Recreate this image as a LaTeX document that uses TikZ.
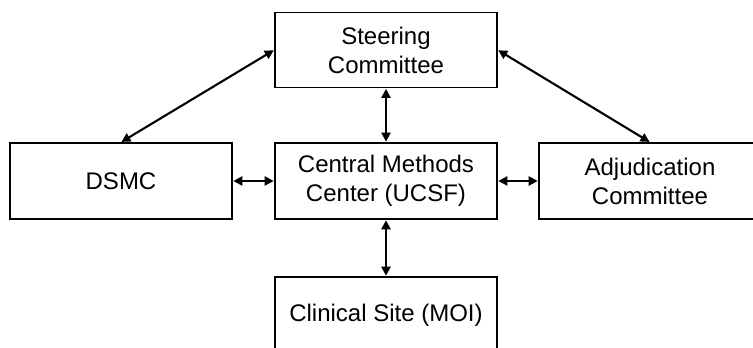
\documentclass[tikz,border=0pt]{standalone}
\usepackage{fontspec}
\setmainfont{Liberation Sans}
\usetikzlibrary{arrows.meta}
\tikzset{
  box/.style={draw=black, line width=1.6pt, fill=white, minimum width=222pt, minimum height=75pt,
    inner sep=0pt, align=center, font=\fontsize{24pt}{29pt}\selectfont},
  link/.style={line width=2.1pt, {Triangle[length=9pt,width=9pt]}-{Triangle[length=9pt,width=9pt]}, shorten <=0.5pt, shorten >=0.5pt}
}
\begin{document}
\begin{tikzpicture}[x=1pt,y=1pt]
\useasboundingbox (0,0) rectangle (753,348);
\fill[white] (0,0) rectangle (753,348);
\clip (0,0) rectangle (753,348);
\node[box] (steer) at (386,298) {Steering\\Committee};
\node[box, minimum height=76pt] (dsmc) at (121,167) {DSMC};
\node[box, minimum height=76pt] (cmc) at (386,167) {Central Methods\\Center (UCSF)};
\node[box, minimum height=76pt] (adj) at (650,167) {Adjudication\\Committee};
\node[box, minimum height=76pt] (site) at (386,33) {Clinical Site (MOI)};
\draw[link] (steer.west) -- (dsmc.north);
\draw[link] (steer.east) -- (adj.north);
\draw[link] (steer.south) -- (cmc.north);
\draw[link] (dsmc.east) -- (cmc.west);
\draw[link] (cmc.east) -- (adj.west);
\draw[link] (cmc.south) -- (site.north);
\end{tikzpicture}
\end{document}
